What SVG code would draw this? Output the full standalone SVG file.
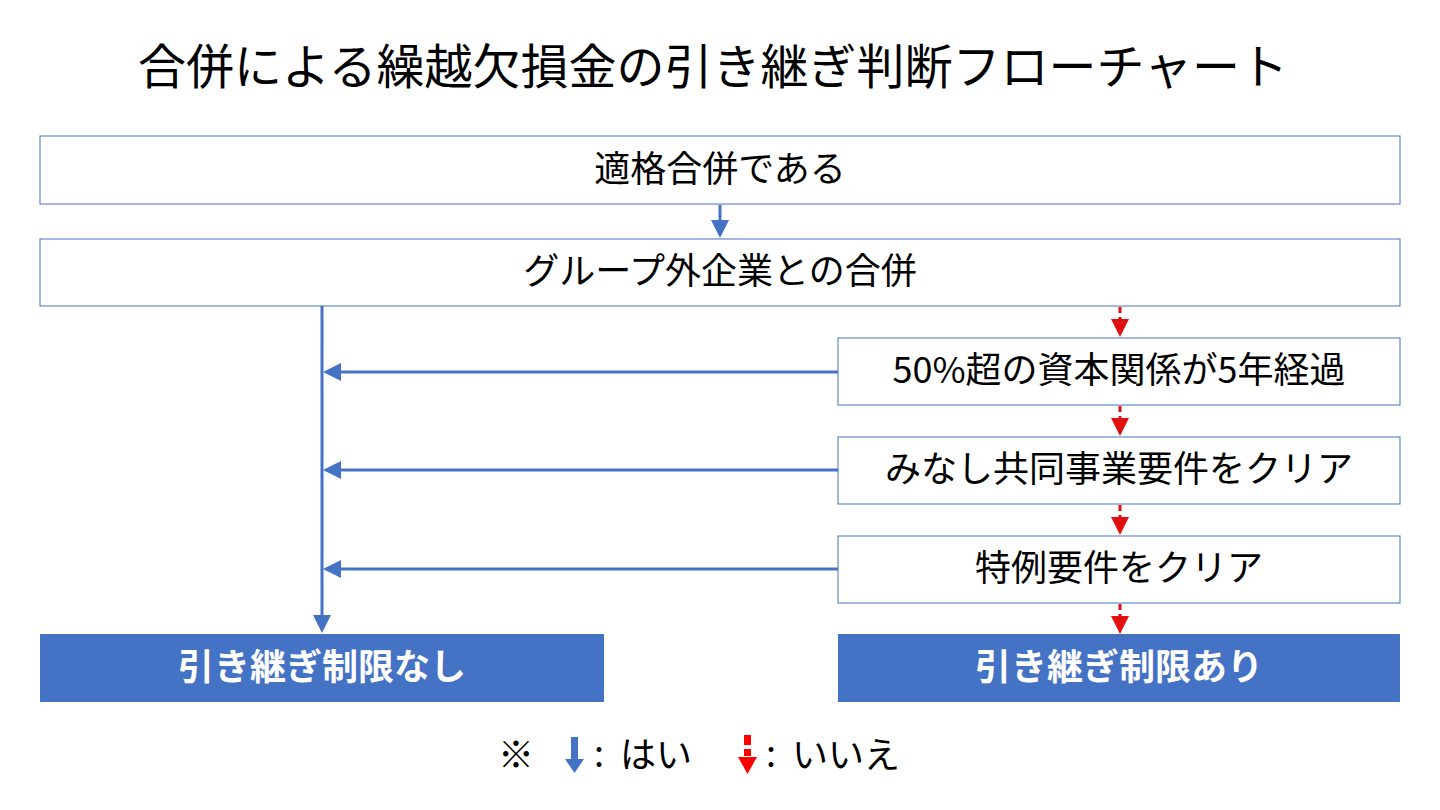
<svg xmlns="http://www.w3.org/2000/svg" width="1440" height="810" viewBox="0 0 1440 810">
<style>
text{font-family:"Noto Sans CJK JP","Noto Sans",sans-serif;text-anchor:middle;dominant-baseline:central;fill:#000}
.box{fill:#fff;stroke:#4472C4;stroke-width:1}
.res{fill:#4472C4}
.t{font-size:36px}
.rt{font-size:36px;font-weight:bold;fill:#fff}
.lg{font-size:36px;text-anchor:start}
.yes{stroke:#4472C4;stroke-width:3;fill:none}
.no{stroke:#E01010;stroke-width:3;fill:none;stroke-dasharray:6 4}
</style>
<defs>
<marker id="ab" markerWidth="6" markerHeight="6" refX="5" refY="3" orient="auto" markerUnits="strokeWidth"><path d="M0,0 L6,3 L0,6 z" fill="#4472C4"/></marker>
<marker id="ar" markerWidth="6" markerHeight="6" refX="5" refY="3" orient="auto" markerUnits="strokeWidth"><path d="M0,0 L6,3 L0,6 z" fill="#E01010"/></marker>
</defs>
<rect width="1440" height="810" fill="#fff"/>
<text x="713" y="63" style="font-size:48px">合併による繰越欠損金の引き継ぎ判断フローチャート</text>
<g id="n1"><rect class="box" x="40" y="136" width="1360" height="68"/><text class="t" x="720" y="166">適格合併である</text></g>
<g id="n2"><rect class="box" x="40" y="239" width="1360" height="67"/><text class="t" x="720" y="268">グループ外企業との合併</text></g>
<g id="n3"><rect class="box" x="838" y="338" width="562" height="67"/><text class="t" x="1119" y="367">50%超の資本関係が5年経過</text></g>
<g id="n4"><rect class="box" x="838" y="437" width="562" height="67"/><text class="t" x="1119" y="466">みなし共同事業要件をクリア</text></g>
<g id="n5"><rect class="box" x="838" y="536" width="562" height="67"/><text class="t" x="1119" y="565">特例要件をクリア</text></g>
<g id="r1"><rect class="res" x="40" y="634" width="564" height="68"/><text class="rt" x="322" y="664">引き継ぎ制限なし</text></g>
<g id="r2"><rect class="res" x="838" y="634" width="562" height="68"/><text class="rt" x="1119" y="664">引き継ぎ制限あり</text></g>
<g id="connectors">
<line class="yes" x1="720" y1="205" x2="720" y2="235" marker-end="url(#ab)"/>
<line class="yes" x1="322" y1="306" x2="322" y2="630" marker-end="url(#ab)"/>
<line class="yes" x1="838" y1="372" x2="326" y2="372" marker-end="url(#ab)"/>
<line class="yes" x1="838" y1="470" x2="326" y2="470" marker-end="url(#ab)"/>
<line class="yes" x1="838" y1="569" x2="326" y2="569" marker-end="url(#ab)"/>
<line class="no" x1="1120" y1="307" x2="1120" y2="334" marker-end="url(#ar)"/>
<line class="no" x1="1120" y1="406" x2="1120" y2="433" marker-end="url(#ar)"/>
<line class="no" x1="1120" y1="505" x2="1120" y2="532" marker-end="url(#ar)"/>
<line class="no" x1="1120" y1="604" x2="1120" y2="631" marker-end="url(#ar)"/>
</g>
<g id="legend">
<text x="498" y="752" class="lg">※</text>
<path d="M571,737 h7 v22 h6 l-9.5,14 l-9.5,-14 h6 z" fill="#4472C4"/>
<text x="594" y="751" class="lg">:</text>
<text x="620" y="752" class="lg">はい</text>
<path d="M744,735 h7 v10 h-7 z M744,749 h7 v7 h-7 z M738,757 h19 l-9.5,17 z" fill="#FF0000"/>
<text x="766" y="751" class="lg">:</text>
<text x="792" y="752" class="lg">いいえ</text>
</g>
</svg>
